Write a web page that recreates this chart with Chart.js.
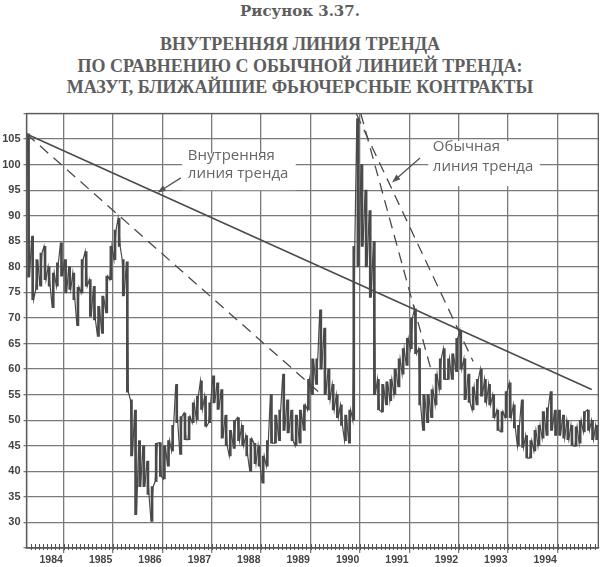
<!DOCTYPE html>
<html><head><meta charset="utf-8">
<script src="https://cdn.jsdelivr.net/npm/chart.js@4.4.1/dist/chart.umd.min.js"></script>
<style>
html,body{margin:0;padding:0;background:#fff;}
#wrap{position:relative;width:600px;height:567px;overflow:hidden;background:#fff;}
#c{position:absolute;left:0;top:0;}
.t{position:absolute;left:0;width:600px;text-align:center;font-weight:bold;color:#5e5e5e;white-space:nowrap;}
</style></head><body>
<div id="wrap">
<div class="t" style="top:2.4px;font-family:'DejaVu Serif',serif;font-size:15px;line-height:normal;">Рисунок 3.37.</div>
<div class="t" style="top:34px;font-family:'Liberation Serif',serif;font-size:18px;line-height:21.7px;">ВНУТРЕННЯЯ ЛИНИЯ ТРЕНДА<br>ПО СРАВНЕНИЮ С ОБЫЧНОЙ ЛИНИЕЙ ТРЕНДА:<br>МАЗУТ, БЛИЖАЙШИЕ ФЬЮЧЕРСНЫЕ КОНТРАКТЫ</div>
<canvas id="c" width="600" height="567"></canvas>
</div>
<script>
// Monthly ranges (nearest heating-oil futures, cents/gallon), month 0 = Jan 1984
const yearLabels = ['1984','1985','1986','1987','1988','1989','1990','1991','1992','1993','1994'];
const monthlyHigh = [
 106, 86, 81.4, 82.7, 84, 80, 78.8, 80.8, 84.7, 81.4, 80, 78.8,
 76, 81.4, 83, 77.5, 76.2, 72.3, 74.3, 78.2, 84, 87.2, 89.5, 81.4,
 81, 54, 52, 46, 45, 42, 37, 45.5, 45.6, 45, 46, 49,
 57, 50.7, 51.4, 50.7, 53.4, 54.7, 57.7, 54.7, 53.4, 58.7, 57.3, 56,
 51, 48, 50, 50.5, 49, 47, 46.4, 45.5, 45, 43, 46, 55,
 51, 52, 59, 54, 52, 51, 52, 53, 58, 62, 62, 71.6,
 68, 60, 57, 55, 53, 51, 52, 84, 109, 100, 95, 91,
 85, 58, 57, 57.5, 58, 60, 62, 64, 66, 70, 71.8, 64,
 55, 55, 56, 59, 62, 64, 62, 63, 66, 67.5, 62, 59,
 56.5, 58, 60, 58, 57, 55, 52, 51.7, 55.6, 57.3, 53, 49,
 54, 47, 46, 48, 49, 51.7, 52.4, 55.6, 52, 52, 51, 50,
 49, 48.7, 50, 51.7, 52, 50, 49
];
const monthlyLow = [
 78, 73.6, 75.6, 76.2, 77.5, 76.2, 72, 76.2, 78.2, 74.9, 75.6, 73.6,
 68.5, 74.9, 76.2, 70.3, 69.6, 66.4, 67, 71, 77.5, 81.4, 84, 74.3,
 55.5, 43, 31.5, 37, 37, 35.5, 30.2, 38, 39, 38.5, 41, 44,
 49.5, 43.3, 46.2, 46.2, 49.5, 50.1, 52.1, 48.8, 49.5, 53.4, 52.1, 46.5,
 45, 43, 44.5, 46, 45, 43, 40, 41.5, 41, 37.7, 41, 45.5,
 45.5, 46, 48, 47.5, 46, 45, 45.5, 48, 52, 55, 57, 60,
 55, 54, 52, 50.5, 49, 46, 45.5, 50, 80, 84, 80, 74,
 55, 52, 51.6, 53, 53.8, 55, 56.5, 59, 60.7, 64, 63, 53,
 48, 49.5, 50.5, 53, 56, 58, 58, 58, 59.5, 60, 54, 53.5,
 52, 53, 54.7, 53.5, 53, 50.5, 48, 47.7, 50.5, 50.5, 48.5, 44.9,
 44.7, 42.6, 42.6, 44, 45, 46.5, 47, 48, 47, 47, 46.5, 46.2,
 45, 44.9, 45.5, 47.7, 48, 46.2, 46.2
];
// Trend lines: [month index, price]
const innerTrend = [[0, 106], [137.3, 56]];
const classicTrend1985 = [[0, 106], [72, 54.8]];
const classicTrend1990a = [[81.2, 110], [98.4, 59.5]];
const classicTrend1990b = [[80.1, 110], [108.5, 61.5]];

// floating high-low bars, one per month
const priceBars = monthlyHigh.map((h, i) => ({x: i + 0.5, y: [monthlyLow[i], h]}));
// the same monthly extremes joined in time order (high/low swing trace)
const swingTrace = [];
monthlyHigh.forEach((h, i) => {
  const l = monthlyLow[i];
  const nextMid = i + 1 < monthlyHigh.length ? (monthlyHigh[i + 1] + monthlyLow[i + 1]) / 2 : (h + l) / 2;
  const rising = nextMid > (h + l) / 2;
  swingTrace.push({x: i + 0.25, y: rising ? l : h});
  swingTrace.push({x: i + 0.75, y: rising ? h : l});
});
const toPts = arr => arr.map(p => ({x: p[0], y: p[1]}));

const GRID = '#7a7a7a';
const INK = '#4a4a4a';

const decor = {
  id: 'decor',
  beforeDatasetsDraw(chart) {
    const {ctx, scales: {x, y}} = chart;
    ctx.save();
    ctx.fillStyle = '#fff';
    const boxes = [[37.8, 102.2, 65.4, 95.0], [97.6, 104.6, 124.7, 95.8]];
    boxes.forEach(b => {
      const x0 = x.getPixelForValue(b[0]), y0 = y.getPixelForValue(b[1]);
      const x1 = x.getPixelForValue(b[2]), y1 = y.getPixelForValue(b[3]);
      ctx.fillRect(x0, y0, x1 - x0, y1 - y0);
    });
    ctx.restore();
  },
  afterDraw(chart) {
    const {ctx, chartArea: a, scales: {x, y}} = chart;
    ctx.save();
    ctx.strokeStyle = '#5a5a5a';
    ctx.lineWidth = 1.3;
    ctx.strokeRect(a.left, a.top, a.right - a.left, a.bottom - a.top);
    ctx.strokeStyle = '#555';
    ctx.lineWidth = 1;
    for (let m = 1; m < monthlyHigh.length; m++) {
      const px = Math.round(x.getPixelForValue(m)) + 0.5;
      ctx.beginPath();
      ctx.moveTo(px, a.bottom - 4);
      ctx.lineTo(px, a.bottom + 2);
      ctx.stroke();
    }
    ctx.fillStyle = '#666';
    ctx.font = '15px "Open Sans"';
    ctx.textBaseline = 'alphabetic';
    ctx.textAlign = 'left';
    const texts = [['Внутренняя', 39.2, 100.95], ['линия тренда', 39.2, 97.4],
                   ['Обычная', 98.7, 102.6], ['линия тренда', 98.7, 98.7]];
    texts.forEach(t => ctx.fillText(t[0], x.getPixelForValue(t[1]), y.getPixelForValue(t[2])));
    const arrows = [[37.5, 97.4, 31.8, 94.5], [95.6, 101.3, 88.8, 96.5]];
    ctx.strokeStyle = '#555';
    ctx.fillStyle = '#555';
    ctx.lineWidth = 1.3;
    arrows.forEach(r => {
      const x0 = x.getPixelForValue(r[0]), y0 = y.getPixelForValue(r[1]);
      const x1 = x.getPixelForValue(r[2]), y1 = y.getPixelForValue(r[3]);
      const ang = Math.atan2(y1 - y0, x1 - x0);
      ctx.beginPath(); ctx.moveTo(x0, y0);
      ctx.lineTo(x1 - 6 * Math.cos(ang), y1 - 6 * Math.sin(ang)); ctx.stroke();
      ctx.beginPath();
      ctx.moveTo(x1, y1);
      ctx.lineTo(x1 - 9 * Math.cos(ang - 0.35), y1 - 9 * Math.sin(ang - 0.35));
      ctx.lineTo(x1 - 9 * Math.cos(ang + 0.35), y1 - 9 * Math.sin(ang + 0.35));
      ctx.closePath(); ctx.fill();
    });
    ctx.restore();
  }
};

const lineDs = (pts, dash, w) => ({
  type: 'line', data: toPts(pts), borderColor: INK, borderWidth: w,
  borderDash: dash, pointRadius: 0, fill: false, tension: 0, order: 0
});

new Chart(document.getElementById('c'), {
  type: 'bar',
  data: {
    datasets: [
      {type: 'bar', data: priceBars, backgroundColor: INK, barThickness: 2, grouped: false, order: 2},
      {type: 'line', data: swingTrace, borderColor: INK, borderWidth: 1.2, pointRadius: 0, tension: 0, fill: false, order: 1},
      lineDs(innerTrend, [], 1.5),
      lineDs(classicTrend1985, [11, 7], 1.3),
      lineDs(classicTrend1990a, [11, 7], 1.3),
      lineDs(classicTrend1990b, [11, 7], 1.3)
    ]
  },
  options: {
    responsive: false,
    animation: false,
    devicePixelRatio: 1,
    layout: {padding: {top: 113.5, right: 1.7, left: 0, bottom: 0}},
    plugins: {legend: {display: false}, tooltip: {enabled: false}, title: {display: false}},
    scales: {
      x: {
        type: 'linear', min: 0, max: 138.9, offset: false,
        afterBuildTicks(scale) {
          const t = [];
          for (let k = 0; k <= 11; k++) { t.push({value: 12 * k}); t.push({value: 12 * k + 6}); }
          scale.ticks = t;
        },
        afterFit(scale) { scale.height = 19; },
        grid: {
          color: c => (c.tick && c.tick.value % 12 === 0) ? GRID : 'rgba(0,0,0,0)',
          lineWidth: 1.3, tickLength: 5, drawTicks: true
        },
        border: {display: true, color: '#5a5a5a', width: 1.3},
        ticks: {
          autoSkip: false, maxRotation: 0, padding: 1,
          color: '#444', font: {family: '"Liberation Sans"', weight: 'bold', size: 10.5},
          callback: v => (v % 12 === 6) ? yearLabels[(v - 6) / 12] : ''
        }
      },
      y: {
        type: 'linear', min: 25, max: 110,
        afterFit(scale) { scale.width = 26.5; },
        grid: {color: GRID, lineWidth: 1.3, tickLength: 3},
        border: {display: true, color: '#5a5a5a', width: 1.3},
        ticks: {
          stepSize: 5, padding: 3, color: '#444',
          font: {family: '"Liberation Sans"', weight: 'bold', size: 11},
          callback: v => (v === 25 || v === 110) ? '' : String(v)
        }
      }
    }
  },
  plugins: [decor]
});
</script>
</body></html>
